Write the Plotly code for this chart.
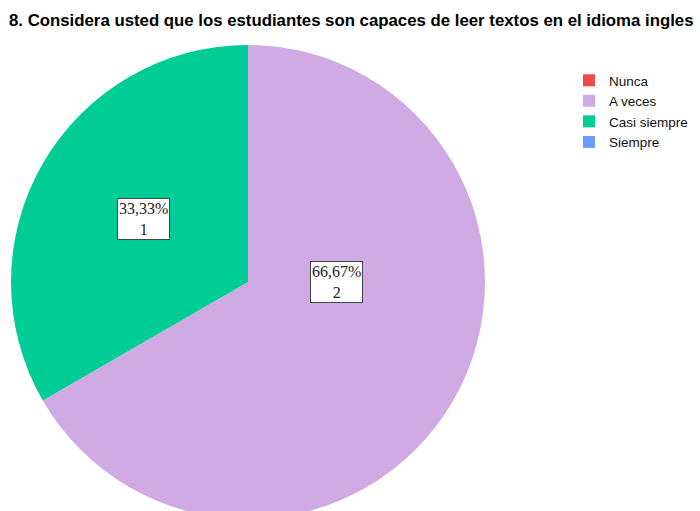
import plotly.graph_objects as go

categories = ["Nunca", "A veces", "Casi siempre", "Siempre"]
counts = [0, 2, 1, 0]
colors = ["#EF4B4B", "#D0AAE5", "#00CC96", "#6A9CFF"]
title_text = "8. Considera usted que los estudiantes son capaces de leer textos en el idioma ingles"

total = sum(counts)
# label positions (paper coords of the pie plot area) for the non-empty slices
label_pos = {"A veces": (0.6857, 0.50), "Casi siempre": (0.2795, 0.633)}

W, H = 700, 530
ml, mt = 11, 45
R = 237

fig = go.Figure(go.Pie(
    labels=categories,
    values=counts,
    marker=dict(colors=colors, line=dict(width=0)),
    sort=False,
    direction="clockwise",
    rotation=0,
    textinfo="none",
    hoverinfo="label+value+percent",
    showlegend=True,
))

annotations = []
for cat, v in zip(categories, counts):
    if v > 0 and cat in label_pos:
        pct = v / total * 100
        txt = f"{pct:.2f}%".replace(".", ",") + f"<br>{v}"
        x, y = label_pos[cat]
        annotations.append(dict(
            x=x, y=y, xref="paper", yref="paper", text=txt, showarrow=False,
            xanchor="center", yanchor="middle",
            font=dict(family="Liberation Serif", size=16, color="#222"),
            bgcolor="white", bordercolor="#444", borderwidth=1, borderpad=1,
            align="center",
        ))

fig.update_layout(
    width=W, height=H,
    margin=dict(l=ml, r=W - ml - 2 * R, t=mt, b=H - mt - 2 * R, autoexpand=False),
    paper_bgcolor="white",
    plot_bgcolor="white",
    title=dict(text=title_text, x=9 / W, xanchor="left", xref="container",
               y=1 - 20 / H, yanchor="middle", yref="container",
               font=dict(family="Liberation Sans", size=16.8, color="black", weight="bold")),
    legend=dict(xref="container", yref="container", x=569 / W, y=1 - 65 / H,
                xanchor="left", yanchor="top", font=dict(family="Liberation Sans", size=13.5, color="#111"),
                itemsizing="constant", tracegroupgap=0, bgcolor="rgba(0,0,0,0)"),
    annotations=annotations,
)

fig.write_html("out.html", config={"displayModeBar": False},
               post_script="document.body.style.margin='0';document.documentElement.style.overflow='hidden';document.body.style.overflow='hidden';")
